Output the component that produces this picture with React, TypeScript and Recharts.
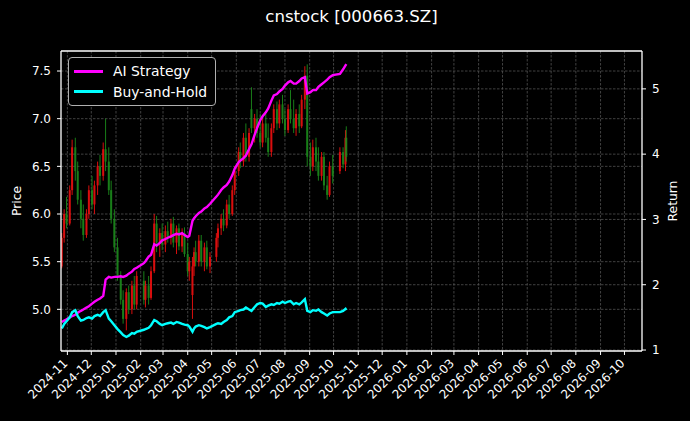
import React from "react";
import {
  ComposedChart, Bar, Line, XAxis, YAxis, CartesianGrid, Legend, ReferenceLine,
} from "recharts";

// trading days shown (roughly every other session)
const dates = [
  "2024-10-25", "2024-10-28", "2024-10-31", "2024-11-04", "2024-11-07", "2024-11-11", "2024-11-14",
  "2024-11-18", "2024-11-21", "2024-11-25", "2024-11-28", "2024-12-02", "2024-12-05", "2024-12-09",
  "2024-12-12", "2024-12-16", "2024-12-19", "2024-12-23", "2024-12-26", "2024-12-30", "2025-01-03",
  "2025-01-07", "2025-01-10", "2025-01-14", "2025-01-17", "2025-01-21", "2025-01-24", "2025-01-27",
  "2025-02-05", "2025-02-07", "2025-02-11", "2025-02-14", "2025-02-18", "2025-02-21", "2025-02-25",
  "2025-02-28", "2025-03-04", "2025-03-07", "2025-03-11", "2025-03-14", "2025-03-18", "2025-03-21",
  "2025-03-25", "2025-03-28", "2025-04-01", "2025-04-03", "2025-04-07", "2025-04-09", "2025-04-11",
  "2025-04-15", "2025-04-18", "2025-04-22", "2025-04-25", "2025-04-29", "2025-05-07", "2025-05-09",
  "2025-05-13", "2025-05-16", "2025-05-20", "2025-05-23", "2025-05-27", "2025-05-30", "2025-06-04",
  "2025-06-06", "2025-06-10", "2025-06-13", "2025-06-17", "2025-06-20", "2025-06-24", "2025-06-27",
  "2025-07-01", "2025-07-04", "2025-07-08", "2025-07-11", "2025-07-15", "2025-07-18", "2025-07-22",
  "2025-07-25", "2025-07-29", "2025-08-01", "2025-08-05", "2025-08-08", "2025-08-12", "2025-08-15",
  "2025-08-19", "2025-08-22", "2025-08-26", "2025-08-29", "2025-09-02", "2025-09-05", "2025-09-09",
  "2025-09-12", "2025-09-16", "2025-09-19", "2025-09-23", "2025-09-26", "2025-09-30", "2025-10-09",
  "2025-10-13", "2025-10-16", "2025-10-17",
];

const opens = [
  5.45, 5.75, 6.0, 5.9, 6.25, 6.7, 6.45, 6.15, 5.95, 5.78, 6.0, 6.25, 6.1, 6.3,
  6.5, 6.4, 6.68, 6.55, 6.25, 5.95, 5.65, 5.35, 5.1, 4.9, 5.18, 5.0, 5.25, 5.05,
  5.3, 5.1, 5.25, 5.12, 5.4, 5.9, 5.7, 5.8, 5.68, 5.82, 5.75, 5.9, 5.7, 5.85,
  5.66, 5.8, 5.58, 5.4, 5.15, 5.45, 5.6, 5.5, 5.72, 5.5, 5.65, 5.45, 5.55, 5.75,
  5.85, 5.95, 5.88, 6.1, 6.0, 6.25, 6.45, 6.65, 6.55, 6.8, 6.6, 7.1, 6.9, 7.0,
  6.85, 6.75, 6.95, 6.8, 6.65, 6.9, 7.1, 6.95, 7.15, 7.0, 6.88, 7.1, 7.0, 6.9,
  7.05, 6.92, 7.2, 7.45, 6.6, 6.5, 6.7, 6.55, 6.4, 6.6, 6.3, 6.2, 6.5, 6.45,
  6.65, 6.52, 6.8,
];
const highs = [
  5.8, 6.05, 6.18, 6.3, 6.78, 6.8, 6.55, 6.25, 6.1, 6.05, 6.3, 6.4, 6.35, 6.55,
  6.62, 6.75, 7.0, 6.7, 6.35, 6.05, 5.75, 5.4, 5.2, 5.22, 5.25, 5.3, 5.35, 5.4,
  5.4, 5.3, 5.35, 5.45, 6.0, 5.98, 5.85, 5.9, 5.88, 5.92, 5.95, 5.97, 5.88, 5.9,
  5.85, 5.86, 5.7, 5.55, 5.55, 5.65, 5.72, 5.78, 5.78, 5.7, 5.72, 5.6, 5.8, 5.9,
  6.0, 6.05, 6.15, 6.2, 6.3, 6.5, 6.7, 6.75, 6.85, 6.95, 6.9, 7.33, 7.05, 7.1,
  7.05, 7.0, 7.05, 6.95, 6.95, 7.15, 7.18, 7.2, 7.25, 7.1, 7.15, 7.3, 7.2, 7.1,
  7.15, 7.25, 7.55, 7.57, 6.75, 6.78, 6.8, 6.7, 6.65, 6.65, 6.4, 6.55, 6.62, 6.7,
  6.7, 6.88, 6.92,
];
const lows = [
  5.43, 5.7, 5.85, 5.88, 6.2, 6.35, 6.1, 5.85, 5.72, 5.75, 5.95, 6.05, 6.0, 6.2,
  6.3, 6.35, 6.45, 6.2, 5.9, 5.6, 5.3, 5.05, 4.85, 4.78, 4.95, 4.95, 5.0, 5.0,
  5.05, 5.02, 5.05, 5.1, 5.38, 5.6, 5.55, 5.62, 5.6, 5.7, 5.68, 5.65, 5.58, 5.62,
  5.6, 5.55, 5.35, 5.3, 4.9, 5.35, 5.45, 5.45, 5.45, 5.4, 5.42, 5.38, 5.5, 5.65,
  5.78, 5.82, 5.85, 5.95, 5.98, 6.2, 6.4, 6.48, 6.5, 6.55, 6.55, 6.85, 6.75, 6.8,
  6.7, 6.7, 6.75, 6.6, 6.6, 6.85, 6.88, 6.9, 6.95, 6.82, 6.85, 6.95, 6.85, 6.82,
  6.85, 6.9, 7.1, 6.5, 6.4, 6.45, 6.45, 6.35, 6.35, 6.25, 6.15, 6.18, 6.32, 6.42,
  6.48, 6.45, 6.55,
];
const closes = [
  5.75, 6.0, 5.9, 6.25, 6.7, 6.45, 6.15, 5.95, 5.78, 6.0, 6.25, 6.1, 6.3, 6.5,
  6.4, 6.68, 6.55, 6.25, 5.95, 5.65, 5.35, 5.1, 4.9, 5.18, 5.0, 5.25, 5.05, 5.35,
  5.1, 5.25, 5.12, 5.4, 5.9, 5.7, 5.8, 5.68, 5.82, 5.75, 5.9, 5.7, 5.85, 5.66,
  5.8, 5.58, 5.4, 5.5, 5.45, 5.6, 5.5, 5.72, 5.5, 5.65, 5.45, 5.55, 5.75, 5.85,
  5.95, 5.88, 6.1, 6.0, 6.25, 6.45, 6.65, 6.55, 6.8, 6.6, 6.85, 6.9, 7.0, 6.85,
  6.75, 6.95, 6.8, 6.65, 6.9, 7.1, 6.95, 7.15, 7.0, 6.88, 7.1, 7.0, 6.9, 7.05,
  6.92, 7.2, 7.45, 6.6, 6.5, 6.7, 6.55, 6.4, 6.6, 6.3, 6.2, 6.5, 6.4, 6.65,
  6.52, 6.8, 6.6,
];

// cumulative return curves (right axis)
const aiReturn = [
  1.43, 1.45, 1.47, 1.5, 1.52, 1.54, 1.57, 1.6, 1.62, 1.65, 1.67, 1.71, 1.74, 1.77,
  1.79, 1.83, 2.08, 2.12, 2.11, 2.12, 2.12, 2.13, 2.12, 2.14, 2.17, 2.2, 2.24, 2.26,
  2.33, 2.36, 2.43, 2.46, 2.62, 2.6, 2.64, 2.68, 2.7, 2.72, 2.74, 2.76, 2.78, 2.77,
  2.79, 2.76, 2.73, 2.75, 2.98, 3.02, 3.05, 3.1, 3.12, 3.17, 3.19, 3.24, 3.35, 3.38,
  3.45, 3.49, 3.53, 3.58, 3.68, 3.78, 3.88, 3.9, 3.94, 3.98, 4.08, 4.15, 4.3, 4.4,
  4.52, 4.58, 4.64, 4.7, 4.82, 4.9, 4.92, 4.96, 5.0, 5.05, 5.1, 5.12, 5.08, 5.08,
  5.12, 5.16, 5.18, 4.93, 4.95, 4.98, 4.98, 5.03, 5.07, 5.1, 5.14, 5.18, 5.21, 5.23,
  5.3, 5.36, 5.38,
];
const bhReturn = [
  1.33, 1.4, 1.44, 1.5, 1.58, 1.61, 1.52, 1.45, 1.46, 1.49, 1.5, 1.48, 1.52, 1.54,
  1.52, 1.58, 1.61, 1.48, 1.44, 1.38, 1.32, 1.27, 1.23, 1.2, 1.22, 1.26, 1.25, 1.28,
  1.31, 1.32, 1.34, 1.38, 1.46, 1.44, 1.4, 1.38, 1.4, 1.41, 1.42, 1.4, 1.43, 1.42,
  1.4, 1.39, 1.38, 1.36, 1.28, 1.33, 1.36, 1.38, 1.37, 1.35, 1.33, 1.35, 1.4, 1.41,
  1.4, 1.43, 1.46, 1.5, 1.52, 1.58, 1.6, 1.61, 1.62, 1.65, 1.62, 1.6, 1.66, 1.7,
  1.72, 1.71, 1.66, 1.68, 1.7, 1.69, 1.72, 1.71, 1.74, 1.72, 1.74, 1.75, 1.7, 1.72,
  1.7, 1.73, 1.78, 1.6, 1.58, 1.61, 1.6, 1.62, 1.58, 1.56, 1.53, 1.56, 1.58, 1.58,
  1.6, 1.63, 1.61,
];

const monthTicks = [
  "2024-11", "2024-12", "2025-01", "2025-02", "2025-03", "2025-04", "2025-05", "2025-06",
  "2025-07", "2025-08", "2025-09", "2025-10", "2025-11", "2025-12", "2026-01", "2026-02",
  "2026-03", "2026-04", "2026-05", "2026-06", "2026-07", "2026-08", "2026-09", "2026-10",
];
const priceTicks = [5.0, 5.5, 6.0, 6.5, 7.0, 7.5];
const returnTicks = [1, 2, 3, 4, 5];

const toTime = (s: string) => {
  const [y, m, d] = s.split("-").map(Number);
  return Date.UTC(y, m - 1, d || 1);
};
const fmtMonth = (t: number) => {
  const d = new Date(t);
  return `${d.getUTCFullYear()}-${String(d.getUTCMonth() + 1).padStart(2, "0")}`;
};

const data = dates.map((s, i) => ({
  t: toTime(s),
  range: [lows[i], highs[i]],
  open: opens[i],
  high: highs[i],
  low: lows[i],
  close: closes[i],
  ai: aiReturn[i],
  bh: bhReturn[i],
}));

const xTicks = monthTicks.map(toTime);
const X_DOMAIN = [Date.UTC(2024, 9, 24), Date.UTC(2026, 9, 23)];
const PRICE_DOMAIN = [4.563, 7.71];
const RETURN_DOMAIN = [0.985, 5.58];

const FONT = "DejaVu Sans";
const GRID = "#5c5c5c";

function Candle(props: any) {
  const { x, y, width, height, payload } = props;
  if (height == null || !payload) return null;
  const { open, close, high, low } = payload;
  const up = close >= open;
  const color = up ? "#f01010" : "#1c8c1c";
  const k = height / (high - low || 1);
  const cx = x + width / 2;
  const yo = y + (high - open) * k;
  const yc = y + (high - close) * k;
  return (
    <g opacity={0.9}>
      <line x1={cx} x2={cx} y1={y} y2={y + height} stroke={color} strokeWidth={1} />
      <rect
        x={cx - 1}
        y={Math.min(yo, yc)}
        width={2}
        height={Math.max(1, Math.abs(yo - yc))}
        fill={color}
      />
    </g>
  );
}

function DateTick({ x, y, payload }: any) {
  const ty = y + 7;
  return (
    <text
      x={x + 1}
      y={ty}
      transform={`rotate(-45, ${x + 1}, ${ty})`}
      textAnchor="end"
      fill="#fff"
      fontSize={12}
      fontFamily={FONT}
    >
      {fmtMonth(payload.value)}
    </text>
  );
}

function renderLegend({ payload }: any) {
  const items = (payload || []).filter((p: any) => p.dataKey === "ai" || p.dataKey === "bh");
  return (
    <div
      style={{
        border: "1px solid #b0b0b0",
        borderRadius: 4,
        background: "#000",
        padding: "3px 8px 3px 5px",
        fontFamily: FONT,
        fontSize: 13.9,
        color: "#fff",
      }}
    >
      {items.map((p: any) => (
        <div key={p.value} style={{ display: "flex", alignItems: "center", height: 20.5 }}>
          <span
            style={{ display: "inline-block", width: 29, height: 2.6, background: p.color, marginRight: 10 }}
          />
          <span>{p.value}</span>
        </div>
      ))}
    </div>
  );
}

function AxisTitle({ viewBox, value, cx }: any) {
  const cy = viewBox.y + viewBox.height / 2;
  return (
    <text
      x={cx}
      y={cy}
      transform={`rotate(-90, ${cx}, ${cy})`}
      textAnchor="middle"
      dominantBaseline="central"
      fill="#fff"
      fontSize={12.3}
      fontFamily={FONT}
    >
      {value}
    </text>
  );
}

export default function App() {
  return (
    <div
      style={{
        position: "absolute",
        left: 0,
        top: 0,
        width: 690,
        height: 421,
        background: "#000",
        fontFamily: FONT,
      }}
    >
      <div
        style={{
          position: "absolute",
          left: 0,
          top: 7,
          width: 703,
          textAlign: "center",
          color: "#fff",
          fontSize: 16.6,
          lineHeight: "20px",
        }}
      >
        cnstock [000663.SZ]
      </div>
      <ComposedChart width={690} height={421} data={data} margin={{ top: 51, right: 0, bottom: 0, left: 0 }}>
        <CartesianGrid
          yAxisId="price"
          stroke={GRID}
          strokeDasharray="2.5 1.5"
          strokeWidth={0.7}
          horizontalValues={priceTicks}
          verticalValues={xTicks}
        />
        <CartesianGrid
          yAxisId="ret"
          stroke={GRID}
          strokeDasharray="2.5 1.5"
          strokeWidth={0.7}
          vertical={false}
          horizontalValues={returnTicks}
        />
        <XAxis
          dataKey="t"
          type="number"
          domain={X_DOMAIN}
          allowDataOverflow
          ticks={xTicks}
          interval={0}
          tick={<DateTick />}
          tickSize={4}
          tickMargin={2}
          height={70}
          stroke="#fff"
          axisLine={{ stroke: "#fff", strokeWidth: 1.3 }}
          tickLine={{ stroke: "#fff" }}
        />
        <YAxis
          yAxisId="price"
          orientation="left"
          domain={PRICE_DOMAIN}
          allowDataOverflow
          ticks={priceTicks}
          interval={0}
          tickFormatter={(v: number) => v.toFixed(1)}
          width={61}
          tickSize={4}
          tickMargin={6}
          tick={{ fill: "#fff", fontSize: 12, fontFamily: FONT }}
          axisLine={{ stroke: "#fff", strokeWidth: 1.3 }}
          tickLine={{ stroke: "#fff" }}
          label={{ value: "Price", content: (p: any) => <AxisTitle {...p} value="Price" cx={17} /> }}
        />
        <YAxis
          yAxisId="ret"
          orientation="right"
          domain={RETURN_DOMAIN}
          allowDataOverflow
          ticks={returnTicks}
          interval={0}
          width={48}
          tickSize={4}
          tickMargin={6}
          tick={{ fill: "#fff", fontSize: 12, fontFamily: FONT }}
          axisLine={{ stroke: "#fff", strokeWidth: 1.3 }}
          tickLine={{ stroke: "#fff" }}
          label={{ value: "Return", content: (p: any) => <AxisTitle {...p} value="Return" cx={673} /> }}
        />
        <ReferenceLine yAxisId="price" y={PRICE_DOMAIN[1]} stroke="#fff" strokeWidth={1.3} ifOverflow="visible" />
        <Bar
          yAxisId="price"
          dataKey="range"
          barSize={2}
          shape={<Candle />}
          legendType="none"
          isAnimationActive={false}
        />
        <Line
          yAxisId="ret"
          dataKey="ai"
          name="AI Strategy"
          type="linear"
          stroke="#ff00ff"
          strokeWidth={2.4}
          dot={false}
          isAnimationActive={false}
        />
        <Line
          yAxisId="ret"
          dataKey="bh"
          name="Buy-and-Hold"
          type="linear"
          stroke="#00ffff"
          strokeWidth={2.4}
          dot={false}
          isAnimationActive={false}
        />
        <Legend
          layout="vertical"
          align="center"
          verticalAlign="middle"
          content={renderLegend}
          wrapperStyle={{ left: 68, top: 57, width: "auto" }}
        />
      </ComposedChart>
    </div>
  );
}
